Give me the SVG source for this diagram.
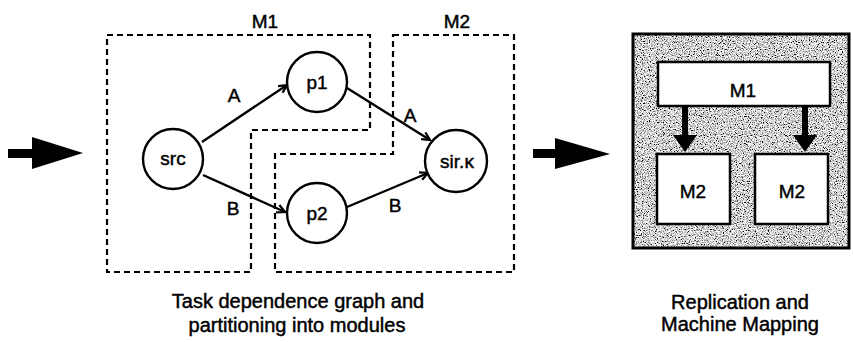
<svg xmlns="http://www.w3.org/2000/svg" width="853" height="342" viewBox="0 0 853 342">
  <style>
    text { font-family: "Liberation Sans", Arial, Helvetica, sans-serif; fill: #000; stroke: #000; stroke-width: 0.45; text-anchor: middle; }
    .lbl { font-size: 19px; }
    .cap { font-size: 20px; }
    .node { fill: #fff; stroke: #000; stroke-width: 2.4; }
    .edge { fill: none; stroke: #000; stroke-width: 2.4; marker-end: url(#vhead); }
    .region { fill: none; stroke: #000; stroke-width: 2.2; stroke-dasharray: 6 4; }
    .box { fill: #fff; stroke: #000; stroke-width: 2.5; }
    .solid { fill: #000; }
  </style>
  <defs>
    <marker id="vhead" markerWidth="12" markerHeight="12" refX="10" refY="5" orient="auto" markerUnits="userSpaceOnUse">
      <path d="M2,1 L10,5 L2,9" fill="none" stroke="#000" stroke-width="2.2"/>
    </marker>
    <filter id="grain" x="0" y="0" width="100%" height="100%" filterUnits="objectBoundingBox">
      <feTurbulence type="fractalNoise" baseFrequency="0.85" numOctaves="2" seed="7" result="n"/>
      <feColorMatrix in="n" type="matrix" values="3 0 0 0 -0.85  3 0 0 0 -0.85  3 0 0 0 -0.85  0 0 0 0 1" result="g"/>
      <feComposite in="g" in2="SourceGraphic" operator="in"/>
    </filter>
  </defs>

  <rect width="853" height="342" fill="#fff"/>

  <!-- big input arrow -->
  <g id="arrow-in">
    <rect class="solid" x="8" y="149" width="26" height="9"/>
    <polygon class="solid" points="32,137 83,153 32,169"/>
  </g>

  <!-- module regions -->
  <g id="module-M1">
    <polygon class="region" points="107,35 370,35 370,130 251,130 251,272 107,272"/>
    <text class="lbl" x="265" y="28">M1</text>
  </g>
  <g id="module-M2">
    <polygon class="region" points="393,35 514,35 514,272 275,272 275,154 393,154"/>
    <text class="lbl" x="457" y="28">M2</text>
  </g>

  <!-- connectors -->
  <g id="connectors">
    <line class="edge" x1="202" y1="142" x2="287" y2="85"/>
    <line class="edge" x1="203" y1="175" x2="285" y2="212"/>
    <line class="edge" x1="347" y1="88" x2="430" y2="140"/>
    <line class="edge" x1="347" y1="207" x2="428" y2="173"/>
    <text class="lbl" x="234" y="102">A</text>
    <text class="lbl" x="233" y="215">B</text>
    <text class="lbl" x="410" y="122">A</text>
    <text class="lbl" x="395" y="212">B</text>
  </g>

  <!-- nodes -->
  <g id="node-src">
    <circle class="node" cx="173" cy="159" r="30"/>
    <text class="lbl" x="173" y="165">src</text>
  </g>
  <g id="node-p1">
    <circle class="node" cx="317" cy="82" r="30"/>
    <text class="lbl" x="317" y="89">p1</text>
  </g>
  <g id="node-p2">
    <circle class="node" cx="317" cy="213" r="30"/>
    <text class="lbl" x="317" y="220">p2</text>
  </g>
  <g id="node-sink">
    <circle class="node" cx="456" cy="161" r="31"/>
    <text class="lbl" x="457" y="168">sir.κ</text>
  </g>

  <text class="cap" x="298" y="308">Task dependence graph and</text>
  <text class="cap" x="297" y="332">partitioning into modules</text>

  <!-- big output arrow -->
  <g id="arrow-out">
    <rect class="solid" x="533" y="149" width="24" height="9"/>
    <polygon class="solid" points="555,138 610,154 555,169"/>
  </g>

  <!-- machine mapping panel -->
  <g id="machine">
    <rect x="633" y="34" width="216" height="214" fill="#999" filter="url(#grain)"/>
    <rect x="633" y="34" width="216" height="214" fill="none" stroke="#000" stroke-width="3"/>
  </g>
  <g id="machine-M1">
    <rect class="box" x="658" y="62" width="172" height="44"/>
    <text class="lbl" x="743" y="97">M1</text>
  </g>
  <g id="machine-arrows">
    <rect class="solid" x="682" y="106" width="6" height="30"/>
    <polygon class="solid" points="673,135 697,135 685,152"/>
    <rect class="solid" x="802" y="106" width="6" height="30"/>
    <polygon class="solid" points="793,135 817,135 805,152"/>
  </g>
  <g id="machine-M2a">
    <rect class="box" x="657" y="154" width="73" height="70"/>
    <text class="lbl" x="693" y="198">M2</text>
  </g>
  <g id="machine-M2b">
    <rect class="box" x="755" y="154" width="73" height="70"/>
    <text class="lbl" x="792" y="198">M2</text>
  </g>

  <text class="cap" x="740" y="309">Replication and</text>
  <text class="cap" x="740" y="331">Machine Mapping</text>
</svg>
